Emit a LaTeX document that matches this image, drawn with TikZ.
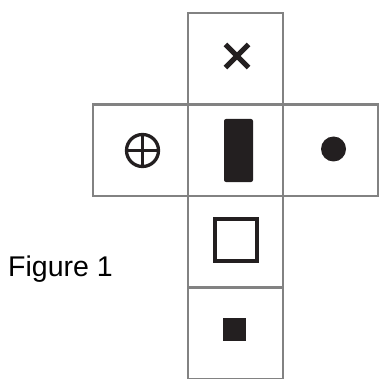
\documentclass[tikz,border=0pt]{standalone}
\usepackage{fontspec}
\setmainfont{Liberation Sans}
\usetikzlibrary{positioning, shapes.misc}

\definecolor{netgray}{RGB}{130,130,130}
\definecolor{ink}{RGB}{35,31,32}

\begin{document}
\begin{tikzpicture}[x=1pt, y=-1pt,
  face/.style={draw=netgray, line width=2.8pt, minimum width=95pt, minimum height=91.5pt, inner sep=0pt, outer sep=0pt},
  solid/.style={fill=ink, inner sep=0pt, outer sep=0pt}]
\useasboundingbox (0,0) rectangle (379,379);
% the net
\node[face] (top) at (235.5,58.75) {};
\node[face, below=0pt of top] (mid) {};
\node[face, below=0pt of mid] (low) {};
\node[face, below=0pt of low] (bot) {};
\node[face, left=0pt of mid] (lft) {};
\node[face, right=0pt of mid] (rgt) {};
% marks on the faces
\node[cross out, draw=ink, line width=5.2pt, minimum size=18pt, inner sep=0pt] (cross) at (237,56) {};
\node[solid, rounded corners=2pt, minimum width=29pt, minimum height=63pt] (bar) at (238.5,150.5) {};
\node[solid, circle, minimum size=25pt] (dot) at (333.5,149) {};
\node[circle, draw=ink, line width=3.3pt, minimum size=32pt, inner sep=0pt, outer sep=0pt] (ring) at (142.5,150.5) {};
\draw[ink, line width=3pt] (ring.north) -- (ring.south) (ring.west) -- (ring.east);
\node[draw=ink, line width=3.8pt, minimum size=42.5pt, inner sep=0pt] (box) at (236,240) {};
\node[solid, minimum size=23pt] (pip) at (234.3,329.5) {};
% caption
\node[anchor=base west, inner sep=0pt, font=\fontsize{28.5}{30}\selectfont] (cap) at (8,276) {Figure 1};
\end{tikzpicture}
\end{document}
